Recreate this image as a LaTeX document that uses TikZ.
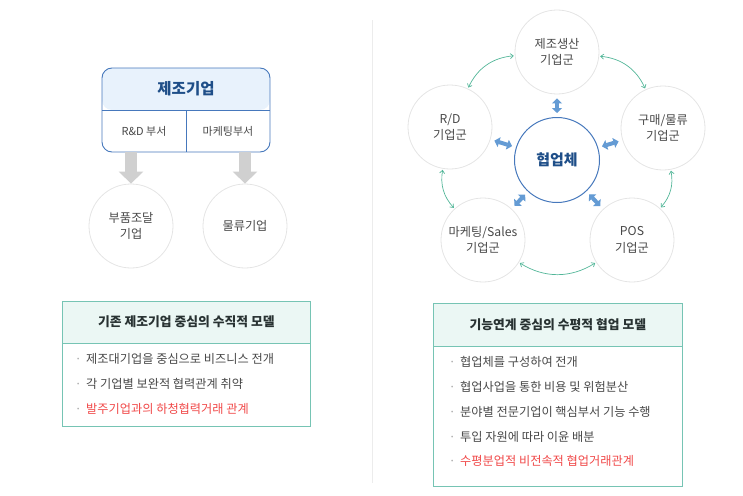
\documentclass[tikz,border=0pt]{standalone}
\usepackage{fontspec}
\setmainfont{Noto Sans CJK KR}
\usepackage{tikz}
\usetikzlibrary{arrows.meta, calc}
\usepackage{xcolor}
\definecolor{boxblue}{RGB}{70,120,188}
\definecolor{headblue}{RGB}{232,242,252}
\definecolor{titleblue}{RGB}{30,78,136}
\definecolor{mint}{RGB}{118,196,180}
\definecolor{headmint}{RGB}{235,247,244}
\definecolor{ringgray}{RGB}{228,228,228}
\definecolor{txtgray}{RGB}{72,72,72}
\definecolor{headtxt}{RGB}{40,50,50}
\definecolor{hlred}{RGB}{240,72,72}
\definecolor{linkgreen}{RGB}{82,182,152}
\definecolor{hubblue}{RGB}{100,155,212}
\definecolor{arrowgray}{RGB}{208,208,208}
\newcommand{\dotitem}{\makebox[16pt][c]{\textcolor{gray!70}{·}}}

\begin{document}
\begin{tikzpicture}[x=1pt,y=1pt,
  firm/.style={circle,draw=ringgray,line width=0.8pt,minimum size=84pt,inner sep=0pt,
    align=center,text=txtgray,font=\fontsize{12.2}{16.5}\selectfont},
  item/.style={anchor=west,inner sep=0pt,text=txtgray,font=\fontsize{12.2}{14}\selectfont},
  hot/.style={item,text=hlred},
  boxhead/.style={text=headtxt,font=\bfseries\fontsize{12.8}{15}\selectfont},
  infobox/.style={draw=mint,line width=0.8pt,anchor=north west,inner sep=0pt,
    path picture={\fill[headmint] (path picture bounding box.north west)
      rectangle ([yshift=-#1]path picture bounding box.north east);
      \draw[mint,line width=0.8pt] ([yshift=-#1]path picture bounding box.north west)
      -- ([yshift=-#1]path picture bounding box.north east);}},
  hubarrow/.style={hubblue,line width=4pt,shorten >=4pt,shorten <=4pt,
    {Triangle[length=5pt,width=10pt]}-{Triangle[length=5pt,width=10pt]}},
  linkarrow/.style={linkgreen,line width=0.7pt,shorten >=1pt,shorten <=1pt,
    {Straight Barb[length=3pt,width=5pt]}-{Straight Barb[length=3pt,width=5pt]}},
  downarrow/.style={arrowgray,line width=12pt,-{Triangle[length=12pt,width=24pt]}}
]
  \useasboundingbox (0,0) rectangle (743,-495);

  % left: vertical model
  \node[draw=boxblue,line width=0.9pt,rounded corners=10pt,minimum width=168pt,minimum height=84pt,
    path picture={\fill[headblue] (path picture bounding box.north west) rectangle (path picture bounding box.east);}]
    (maker) at (186,-110) {};
  \draw[boxblue,line width=0.8pt] (maker.west) -- (maker.east);
  \draw[boxblue,line width=0.8pt] (maker.center) -- (maker.south);
  \node[text=titleblue,font=\bfseries\fontsize{15.5}{17}\selectfont] (makertitle) at ([yshift=21pt]maker.center) {제조기업};
  \node[text=txtgray,font=\fontsize{11}{13}\selectfont] (rdcell) at ([xshift=-42pt,yshift=-21pt]maker.center) {R\&D 부서};
  \node[text=txtgray,font=\fontsize{11}{13}\selectfont] (mktcell) at ([xshift=42pt,yshift=-21pt]maker.center) {마케팅부서};

  \node[firm] (parts) at (131,-226) {부품조달\\기업};
  \node[firm] (logis) at (245,-226) {물류기업};
  \draw[downarrow] (parts.north |- maker.south) -- (parts.north);
  \draw[downarrow] (logis.north |- maker.south) -- (logis.north);

  \node[infobox=42pt,minimum width=248pt,minimum height=125pt] (oldbox) at (62,-301) {};
  \node[boxhead] (oldhead) at ([yshift=-21pt]oldbox.north) {기존 제조기업 중심의 수직적 모델};
  \node[item] (old1) at (70,-359) {\dotitem 제조대기업을 중심으로 비즈니스 전개};
  \node[item] (old2) at (70,-384) {\dotitem 각 기업별 보완적 협력관계 취약};
  \node[hot] (old3) at (70,-409) {\dotitem 발주기업과의 하청협력거래 관계};

  % separator
  \coordinate (sepa) at (372,-20);
  \coordinate (sepb) at (372,-483);
  \draw[gray!15,line width=0.8pt] (sepa) -- (sepb);

  % right: horizontal model
  \node[circle,draw=boxblue,line width=1pt,minimum size=85pt,inner sep=0pt,text=titleblue,
    font=\bfseries\fontsize{15}{17}\selectfont] (hub) at (557,-160) {협업체};
  \node[firm] (prod) at (557,-52) {제조생산\\기업군};
  \node[firm] (rd) at (450,-127) {R/D\\기업군};
  \node[firm] (buy) at (663,-128) {구매/물류\\기업군};
  \node[firm] (mkt) at (483,-240) {마케팅/Sales\\기업군};
  \node[firm] (pos) at (632,-240) {POS\\기업군};

  \foreach \n in {prod,rd,buy,mkt,pos}
    \draw[hubarrow] (hub) -- (\n);

  \draw[linkarrow] (prod) to[bend right=30] (rd);
  \draw[linkarrow] (rd) to[bend right=26] (mkt);
  \draw[linkarrow] (mkt) to[bend right=32] (pos);
  \draw[linkarrow] (pos) to[bend right=26] (buy);
  \draw[linkarrow] (buy) to[bend right=30] (prod);

  \node[infobox=43pt,minimum width=249pt,minimum height=183pt] (newbox) at (433,-303) {};
  \node[boxhead] (newhead) at ([yshift=-21.5pt]newbox.north) {기능연계 중심의 수평적 협업 모델};
  \node[item] (new1) at (444,-362) {\dotitem 협업체를 구성하여 전개};
  \node[item] (new2) at (444,-387) {\dotitem 협업사업을 통한 비용 및 위험분산};
  \node[item] (new3) at (444,-412) {\dotitem 분야별 전문기업이 핵심부서 기능 수행};
  \node[item] (new4) at (444,-437) {\dotitem 투입 자원에 따라 이윤 배분};
  \node[hot] (new5) at (444,-461) {\dotitem 수평분업적 비전속적 협업거래관계};
\end{tikzpicture}
\end{document}
